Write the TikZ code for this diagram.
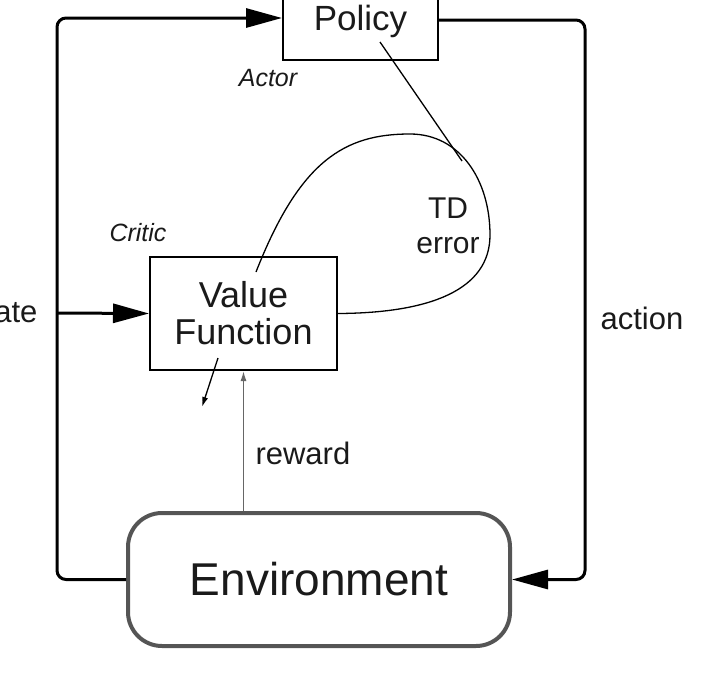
\documentclass[tikz,border=0pt]{standalone}
\usepackage{fontspec}
\setmainfont{Liberation Sans}
\usetikzlibrary{arrows.meta}
\definecolor{txt}{HTML}{1A1A1A}
\definecolor{envgray}{HTML}{555555}
\definecolor{rewgray}{HTML}{666666}
\begin{document}
\begin{tikzpicture}[x=1pt,y=-1pt,
  every node/.style={text=txt},
  boxnode/.style={draw=black, line width=2pt, inner sep=0pt},
  flow/.style={draw=black, line width=3pt, rounded corners=9pt},
  bigtip/.style={-{Triangle[length=36pt,width=19pt]}},
  thinline/.style={draw=black, line width=1.3pt},
  smalltip/.style={-{Latex[length=10pt,width=6pt]}},
  lbl/.style={font=\fontsize{31}{35}\selectfont},
  rolelbl/.style={font=\fontsize{25}{28}\selectfont\itshape}
]
\useasboundingbox (0,0) rectangle (710,678);

% nodes
\node[boxnode, minimum width=155pt, minimum height=86pt,
      font=\fontsize{35}{38}\selectfont] (policy) at (360.5,17) {};
\node (policytext) at (360.5,21) {\fontsize{35}{38}\selectfont Policy};
\node[boxnode, minimum width=187pt, minimum height=113pt, align=center,
      font=\fontsize{36}{37}\selectfont] (vf) at (243.5,313.5) {Value\\Function};
\node[draw=envgray, line width=4pt, rounded corners=34pt, inner sep=0pt,
      minimum width=382pt, minimum height=133pt,
      font=\fontsize{46}{50}\selectfont] (env) at (319,579.5) {Environment};

% labels
\node[rolelbl] (actor) at (268,78) {Actor};
\node[rolelbl] (critic) at (138,233) {Critic};
\node[lbl, align=center, font=\fontsize{30}{35}\selectfont] (td) at (448,226) {TD\\error};
\node[lbl, anchor=west] (action) at (597,318) {action};
\node[lbl, anchor=east] (state) at (41,313) {state};
\node[lbl, anchor=west] (reward) at (252,453) {reward};

% helper coordinates
\coordinate (lc) at (57,313);
\coordinate (rc) at (585,318);
\coordinate (tdend) at (256,272);
\coordinate (polin) at (380,42);
\coordinate (tdtouch) at (462,161);
\coordinate (vfin) at (218,358);
\coordinate (vfout) at (202,407);
\coordinate (polleft) at (policy.west |- 0,18);
\coordinate (polright) at (policy.east |- 0,20);

% main loop
\draw[flow, bigtip] (env.west) -| (lc) |- (polleft);
\draw[flow, bigtip] (lc) -- (vf.west);
\draw[flow, bigtip] (polright) -| (rc) |- (env.east);

% reward
\draw[draw=rewgray, line width=1.3pt, smalltip] (vf.south |- env.north) -- (vf.south);

% small arrow out of value function
\draw[thinline, smalltip] (vfin) -- (vfout);

% TD error loop
\draw[thinline] (vf.east) .. controls (430,313) and (490,290) .. (490,235)
  .. controls (490,180) and (460,134) .. (410,134)
  .. controls (345,134) and (300,160) .. (tdend);
\draw[thinline] (polin) -- (tdtouch);
\end{tikzpicture}
\end{document}
